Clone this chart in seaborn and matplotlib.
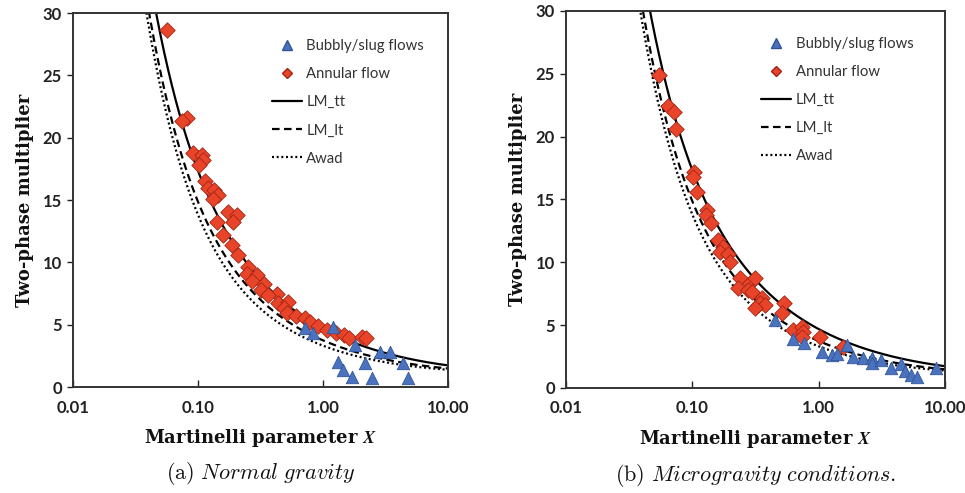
import numpy as np
import pandas as pd
import matplotlib
matplotlib.use("Agg")
import matplotlib.pyplot as plt
import seaborn as sns
from matplotlib.lines import Line2D

# ---- measured two-phase multipliers, normal gravity ----
normal_bubbly_x = [0.72, 0.83, 1.20, 1.80, 2.86, 3.44, 1.32, 1.45, 1.71, 2.17, 2.47, 4.37, 4.79]
normal_bubbly_phi = [4.7, 4.3, 4.8, 3.4, 2.8, 2.8, 2.0, 1.4, 0.8, 1.9, 0.7, 1.9, 0.7]

normal_annular_x = [0.0565, 0.0817, 0.0745, 0.0912, 0.1076, 0.1096, 0.1019, 0.1138, 0.1202,
                    0.1343, 0.1445, 0.1318, 0.1738, 0.205, 0.1905, 0.1419, 0.1585, 0.187,
                    0.209, 0.251, 0.247, 0.296, 0.270, 0.337, 0.319, 0.429, 0.363, 0.437,
                    0.525, 0.488, 0.515, 0.608, 0.718, 0.787, 0.912, 1.076, 1.27, 1.47,
                    1.61, 2.05, 2.21]
normal_annular_phi = [28.6, 21.6, 21.3, 18.8, 18.6, 18.2, 17.8, 16.5, 16.0,
                      15.8, 15.4, 15.1, 14.0, 13.8, 13.2, 13.2, 12.2, 11.4,
                      10.6, 9.6, 9.1, 9.0, 8.5, 8.3, 7.8, 7.5, 7.4, 6.7,
                      6.8, 6.3, 5.9, 5.7, 5.5, 5.2, 4.9, 4.6, 4.3, 4.2,
                      3.9, 4.0, 3.9]

# ---- measured two-phase multipliers, microgravity ----
micro_bubbly_x = [0.449, 0.622, 0.761, 1.057, 1.27, 1.41, 1.69, 1.86, 2.23, 2.67, 2.67,
                  3.09, 3.71, 4.53, 4.79, 5.43, 5.96, 8.57]
micro_bubbly_phi = [5.4, 3.9, 3.6, 2.85, 2.6, 2.7, 3.4, 2.45, 2.4, 2.4, 2.0,
                    2.2, 1.6, 1.9, 1.35, 1.0, 0.9, 1.6]

micro_annular_x = [0.0543, 0.064, 0.0714, 0.0741, 0.1028, 0.1009, 0.1086, 0.130, 0.128,
                   0.140, 0.159, 0.174, 0.165, 0.191, 0.198, 0.237, 0.229, 0.285, 0.312,
                   0.275, 0.295, 0.354, 0.342, 0.374, 0.312, 0.529, 0.510, 0.622, 0.734,
                   0.748, 0.734, 1.02, 1.55]
micro_annular_phi = [24.9, 22.4, 22.0, 20.6, 17.2, 16.8, 15.6, 14.2, 13.8,
                     13.1, 11.8, 11.2, 10.8, 10.7, 10.0, 8.75, 7.95, 8.35, 8.75,
                     7.8, 7.6, 7.2, 6.8, 6.6, 6.4, 6.8, 6.0, 4.6, 4.85,
                     4.45, 4.05, 4.05, 3.3]

# ---- correlations: phi_L = sqrt(1 + C/X + 1/X^2) ----
model_names = ["LM_tt", "LM_lt", "Awad"]
chisholm_c = [20, 12, 9]
model_styles = ["-", (0, (3.4, 2.0)), (0, (0.9, 1.2))]

x_ticks = [0.01, 0.1, 1, 10]
x_ticklabels = ["0.01", "0.10", "1.00", "10.00"]
y_ticks = [0, 5, 10, 15, 20, 25, 30]

panels = [
    ("a", "Normal\\ gravity", normal_bubbly_x, normal_bubbly_phi,
     normal_annular_x, normal_annular_phi),
    ("b", "Microgravity\\ conditions.", micro_bubbly_x, micro_bubbly_phi,
     micro_annular_x, micro_annular_phi),
]

sns.set_theme(style="white")
plt.rcParams["font.family"] = ["Lato", "DejaVu Sans"]
plt.rcParams["mathtext.fontset"] = "cm"

BLUE = "#4a72bf"
BLUE_EDGE = "#2f5597"
RED = "#e8442a"
RED_EDGE = "#a52412"
INK = "#222222"

fig = plt.figure(figsize=(9.65, 4.93), dpi=100)
axes_rects = [[0.0756, 0.215, 0.3886, 0.7586], [0.5865, 0.213, 0.3927, 0.7647]]
legend_anchor = [(0.968, 0.962), (0.948, 0.963)]

x_grid = np.logspace(-2, 1, 600)

for rect, anchor, (tag, caption, bx, by, ax_x, ax_y) in zip(axes_rects, legend_anchor, panels):
    ax = fig.add_axes(rect)

    for name, c, ls in zip(model_names, chisholm_c, model_styles):
        phi = np.sqrt(1.0 + c / x_grid + 1.0 / x_grid ** 2)
        sns.lineplot(x=x_grid, y=phi, ax=ax, color="black", linewidth=1.6,
                     linestyle=ls, sort=False, estimator=None, label=name,
                     legend=False)

    sns.scatterplot(x=ax_x, y=ax_y, ax=ax, marker="D", s=62, color=RED,
                    edgecolor=RED_EDGE, linewidth=0.6, zorder=4, legend=False)
    sns.scatterplot(x=bx, y=by, ax=ax, marker="^", s=80, color=BLUE,
                    edgecolor=BLUE_EDGE, linewidth=0.6, zorder=5, legend=False)

    ax.set_xscale("log")
    ax.set_xlim(0.01, 10)
    ax.set_ylim(0, 30)
    ax.set_xticks(x_ticks)
    ax.set_xticklabels(x_ticklabels)
    ax.minorticks_off()
    ax.set_yticks(y_ticks)
    ax.tick_params(axis="x", direction="in", length=5, width=1, pad=9,
                   labelsize=12, colors=INK, bottom=True)
    ax.tick_params(axis="y", direction="out", length=4, width=1, pad=4,
                   labelsize=12, colors=INK, left=True)
    for lab in ax.get_xticklabels() + ax.get_yticklabels():
        lab.set_fontweight("bold")
    for sp in ax.spines.values():
        sp.set_visible(True)
        sp.set_color("#333333")
        sp.set_linewidth(1.4)

    ax.set_xlabel("Martinelli parameter $\\mathbfit{X}$", fontsize=13,
                  fontweight="bold", family="DejaVu Serif", color="#111111",
                  labelpad=8)
    ax.set_ylabel("Two-phase multiplier", fontsize=13, fontweight="bold",
                  family="DejaVu Serif", color="#111111", labelpad=6)

    handles = [
        Line2D([], [], marker="^", linestyle="none", markersize=7.5,
               markerfacecolor=BLUE, markeredgecolor=BLUE_EDGE),
        Line2D([], [], marker="D", linestyle="none", markersize=5.5,
               markerfacecolor=RED, markeredgecolor=RED_EDGE),
    ] + [Line2D([], [], color="black", linewidth=1.6, linestyle=ls)
         for ls in model_styles]
    labels = ["Bubbly/slug flows", "Annular flow"] + model_names
    ax.legend(handles, labels, loc="upper right", bbox_to_anchor=anchor,
              frameon=False, fontsize=10.7, handlelength=2.0, handletextpad=0.3,
              labelspacing=0.95, labelcolor="#333333", borderpad=0.3)

    ax.text(0.5, -0.195, f"$\\mathrm{{({tag})}}\\ \\mathit{{{caption}}}$",
            transform=ax.transAxes, ha="center", va="top", fontsize=16,
            color="#111111")

fig.savefig("out.png", dpi=100, facecolor="white")
